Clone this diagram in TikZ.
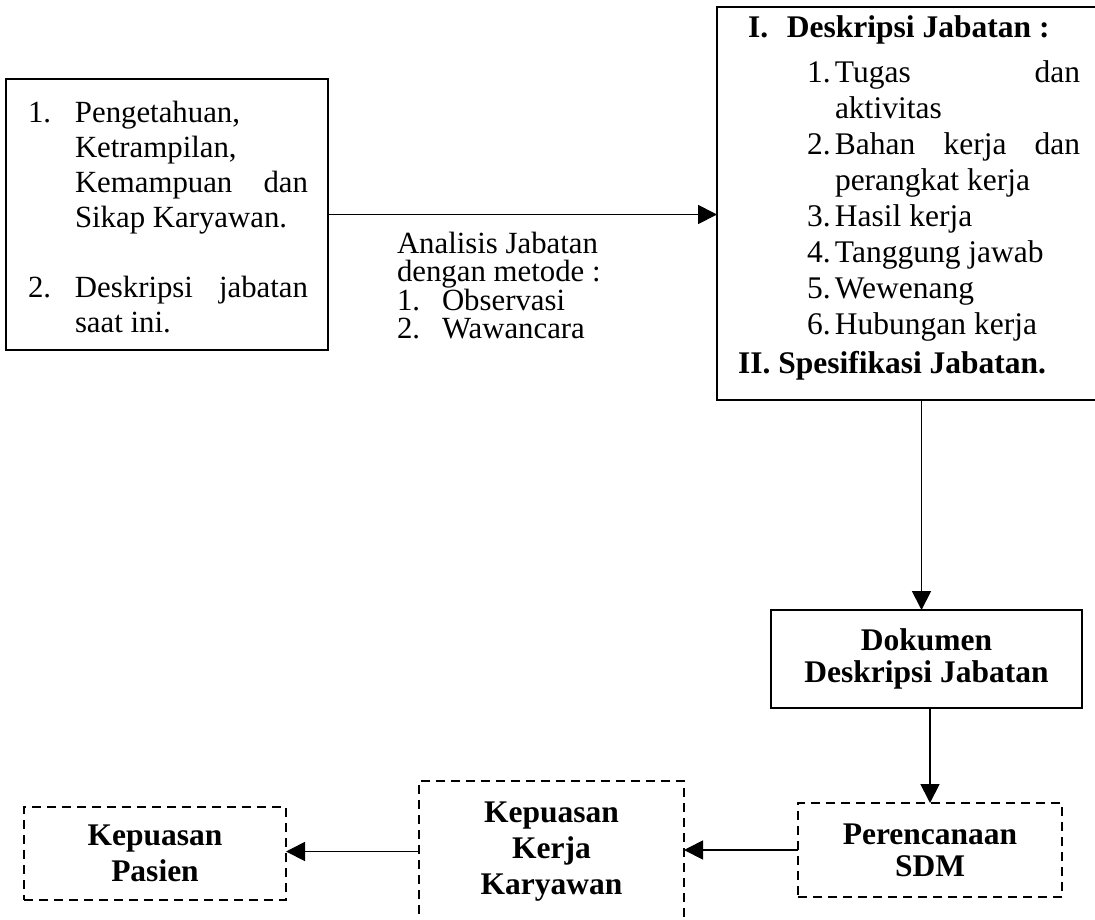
\documentclass[tikz,border=0pt]{standalone}
\usepackage{fontspec}
\setmainfont{Liberation Serif}
\usetikzlibrary{arrows.meta}
\begin{document}
\begin{tikzpicture}[x=1pt,y=-1pt,
  box/.style={draw, line width=1.9pt, inner sep=0pt, outer sep=0pt},
  dbox/.style={box, line width=1.7pt, dash pattern=on 9pt off 6pt},
  arr/.style={line width=1.8pt, -{Triangle[length=19pt,width=19pt]}},
  txt/.style={inner sep=0pt, outer sep=0pt, font=\fontsize{30.8}{35}\selectfont},
  btxt/.style={align=center, font=\fontsize{31.5}{36}\selectfont\bfseries},
  btxttight/.style={align=center, font=\fontsize{31.5}{32}\selectfont\bfseries}]
\useasboundingbox (0,0) rectangle (1095,919);
\clip (0,0) rectangle (1095,919);

% left box
\node[box, anchor=north west, minimum width=322pt, minimum height=271pt] (L) at (6,79) {};
\node[txt, anchor=base west] (Ltext) at (28,122) {\vtop{%
  \hbox{\makebox[47pt][l]{1.}Pengetahuan,}
  \hbox{\hspace*{47pt}Ketrampilan,}
  \hbox{\hspace*{47pt}\makebox[233pt][s]{Kemampuan dan}}
  \hbox{\hspace*{47pt}Sikap Karyawan.}
  \hbox{}
  \hbox{\makebox[47pt][l]{2.}\makebox[233pt][s]{Deskripsi jabatan}}
  \hbox{\hspace*{47pt}saat ini.}}};

% middle label
\node[txt, font=\fontsize{30.8}{28.5}\selectfont, anchor=base west] (M) at (397,253) {\vtop{%
  \hbox{Analisis Jabatan}
  \hbox{dengan metode :}
  \hbox{\makebox[45pt][l]{1.}Observasi}
  \hbox{\makebox[45pt][l]{2.}Wawancara}}};

% right box
\node[box, anchor=north west, minimum width=382pt, minimum height=393pt] (R) at (717,7) {};
\node[txt, font=\fontsize{31.5}{36}\selectfont\bfseries, anchor=base west] (Rhead) at (748,37) {\makebox[39pt][l]{I.}Deskripsi Jabatan :};
\node[txt, font=\fontsize{31.5}{36.1}\selectfont, anchor=base west] (Rlist) at (807,82) {\vtop{%
  \hbox{\makebox[28pt][l]{1.}\makebox[245pt][s]{Tugas dan}}
  \hbox{\hspace*{28pt}aktivitas}
  \hbox{\makebox[28pt][l]{2.}\makebox[245pt][s]{Bahan kerja dan}}
  \hbox{\hspace*{28pt}perangkat kerja}
  \hbox{\makebox[28pt][l]{3.}Hasil kerja}
  \hbox{\makebox[28pt][l]{4.}Tanggung jawab}
  \hbox{\makebox[28pt][l]{5.}Wewenang}
  \hbox{\makebox[28pt][l]{6.}Hubungan kerja}}};
\node[txt, font=\fontsize{31.5}{36}\selectfont\bfseries, anchor=base west] (Rfoot) at (738,373) {II. Spesifikasi Jabatan.};

% lower boxes
\node[box, btxttight, anchor=north west, minimum width=311pt, minimum height=98pt] (D) at (771,610) {Dokumen\\Deskripsi Jabatan};
\node[dbox, btxttight, anchor=north west, minimum width=264pt, minimum height=94pt] (P) at (798,803) {Perencanaan\\SDM};
\node[dbox, btxt, anchor=north west, minimum width=265pt, minimum height=141pt] (K) at (419,781) {Kepuasan\\Kerja\\Karyawan};
\node[dbox, btxt, anchor=north west, minimum width=262pt, minimum height=93pt] (Pa) at (24,807) {Kepuasan\\Pasien};

% connectors
\draw[arr] (L.east) -- (L.east -| R.west);
\draw[arr] ([xshift=-5pt]D.north |- R.south) -- ([xshift=-5pt]D.north);
\draw[arr] (P.north |- D.south) -- (P.north);
\draw[arr] (P.west) -- (P.west -| K.east);
\draw[arr] (K.west) -- (K.west -| Pa.east);
\end{tikzpicture}
\end{document}
